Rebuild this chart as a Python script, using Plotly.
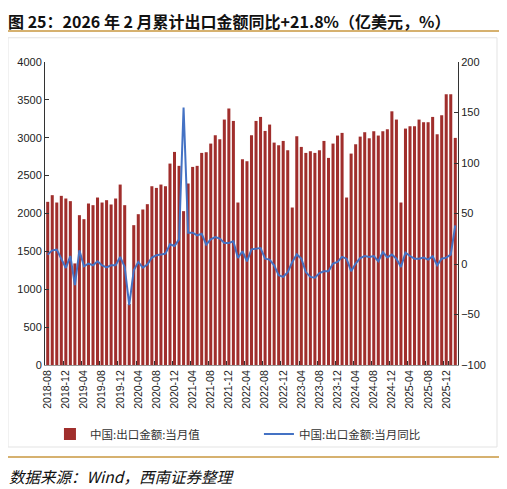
import plotly.graph_objects as go
import pandas as pd

# months 2018-08 .. 2026-02
months = [str(p) for p in pd.period_range('2018-08', '2026-02', freq='M')]

# 中国:出口金额:当月值 (亿美元)
export_value = [
    2154, 2242, 2145, 2233, 2198,                                      # 2018
    2163, 1341, 1978, 1925, 2132, 2110, 2211, 2145, 2176, 2119, 2198, 2382,  # 2019
    2110, 805, 1846, 1991, 2053, 2123, 2360, 2338, 2382, 2360, 2659, 2813,   # 2020
    2629, 2031, 2396, 2615, 2629, 2800, 2809, 2923, 3033, 2980, 3240, 3385,  # 2021
    3222, 2145, 2716, 2690, 3033, 3222, 3275, 3090, 3174, 2936, 2901, 2958,  # 2022
    2835, 2079, 3020, 2879, 2800, 2822, 2800, 2835, 2958, 2734, 2923, 3029,  # 2023
    3064, 2211, 2791, 2914, 3015, 3073, 2993, 3086, 3029, 3086, 3112, 3349,  # 2024
    3240, 2145, 3121, 3152, 3152, 3240, 3205, 3205, 3275, 3046, 3297, 3574,  # 2025
    3574, 2998,                                                        # 2026
]

# 中国:出口金额:当月同比 (%)
export_yoy = [
    9.3, 13.5, 14.2, 5.3, -3.9,
    7.9, -21.0, 13.5, -2.3, 0.4, -1.3, 2.7, -1.3, -3.3, -1.3, -1.3, 7.0,
    -2.9, -40.8, -6.2, 2.0, -3.6, -0.6, 6.3, 8.6, 9.3, 10.3, 19.5, 17.8,
    24.4, 155.0, 31.0, 31.0, 28.4, 30.0, 19.2, 24.4, 26.7, 25.1, 20.8, 20.8,
    22.4, 5.9, 12.6, 2.7, 14.5, 15.2, 15.8, 5.3, 4.4, -1.3, -11.2, -12.8,
    -8.0, 2.0, 9.5, 5.3, -8.0, -12.8, -13.5, -9.0, -7.2, -7.2, 0.4, 2.0,
    7.0, 5.3, -7.2, 0.4, 5.9, 7.9, 7.0, 7.9, 2.7, 11.9, 6.6, 9.3,
    5.3, -2.9, 11.3, 7.9, 5.3, 5.3, 6.3, 4.4, 7.6, -1.3, 5.3, 6.3,
    9.3, 38.3,
]

tick_labels = months[::4]

font_cn = 'Noto Sans CJK SC'
font_num = 'Liberation Sans, Arial'

fig = go.Figure()
fig.add_trace(go.Bar(
    x=months, y=export_value, name='中国:出口金额:当月值',
    marker=dict(color='#A02E2C', line=dict(width=0)),
))
fig.add_trace(go.Scatter(
    x=months, y=export_yoy, name='中国:出口金额:当月同比', yaxis='y2',
    legend='legend2', mode='lines', line=dict(color='#4472C4', width=2),
))

legend_style = dict(
    orientation='h', xanchor='left', y=-0.228, yanchor='middle',
    font=dict(family=font_cn, size=11.5, color='#333333'),
    bgcolor='rgba(0,0,0,0)',
)

# the page body adds 8px, so the figure is laid out 8px up/left
fig.update_layout(
    width=507, height=489,
    margin=dict(l=37, r=57, t=54, b=132, autoexpand=False),
    paper_bgcolor='white', plot_bgcolor='white',
    bargap=0.33,
    font=dict(family=font_num, size=11, color='#222222'),
    xaxis=dict(
        type='category', tickmode='array', tickvals=tick_labels, ticktext=tick_labels,
        tickangle=-90, tickson='boundaries', ticks='inside', ticklen=4,
        tickcolor='#333333', showline=True, linecolor='#999999', linewidth=1,
        showgrid=False, tickfont=dict(size=10.5), range=[-0.6, len(months) - 0.4],
    ),
    yaxis=dict(
        range=[0, 4000], dtick=500, showgrid=False, showline=True,
        linecolor='#333333', linewidth=1, ticks='inside', ticklen=4,
        tickcolor='#333333', zeroline=False,
    ),
    yaxis2=dict(
        range=[-100, 200], dtick=50, overlaying='y', side='right',
        showgrid=False, showline=True, linecolor='#333333', linewidth=1,
        ticks='inside', ticklen=4, tickcolor='#333333', zeroline=False,
    ),
    legend=dict(x=0.012, **legend_style),
    legend2=dict(x=0.518, **legend_style),
    showlegend=True,
)

# title, rules, frame and source
fig.add_annotation(
    text='<b>图 25：2026 年 2 月累计出口金额同比+21.8%（亿美元，%）</b>',
    xref='paper', yref='paper', x=-0.092, y=1.177, xanchor='left', yanchor='top',
    borderpad=0, showarrow=False, font=dict(family=font_cn, size=16, color='#111111'),
)
fig.add_shape(type='line', xref='paper', yref='paper', x0=-0.097, x1=1.102,
              y0=1.102, y1=1.102, line=dict(color='#C9973F', width=1.5))
fig.add_shape(type='rect', xref='paper', yref='paper', x0=-0.0896, x1=1.0944,
              y0=-0.2706, y1=1.08, line=dict(color='#E3E3E3', width=1))
fig.add_shape(type='line', xref='paper', yref='paper', x0=-0.097, x1=1.102,
              y0=-0.3036, y1=-0.3036, line=dict(color='#C9973F', width=1.5))
fig.add_annotation(
    text='<i>数据来源：Wind，西南证券整理</i>',
    xref='paper', yref='paper', x=-0.092, y=-0.366, xanchor='left', yanchor='middle',
    showarrow=False, font=dict(family=font_cn, size=15.5, color='#111111'),
)

fig.write_html('out.html')
